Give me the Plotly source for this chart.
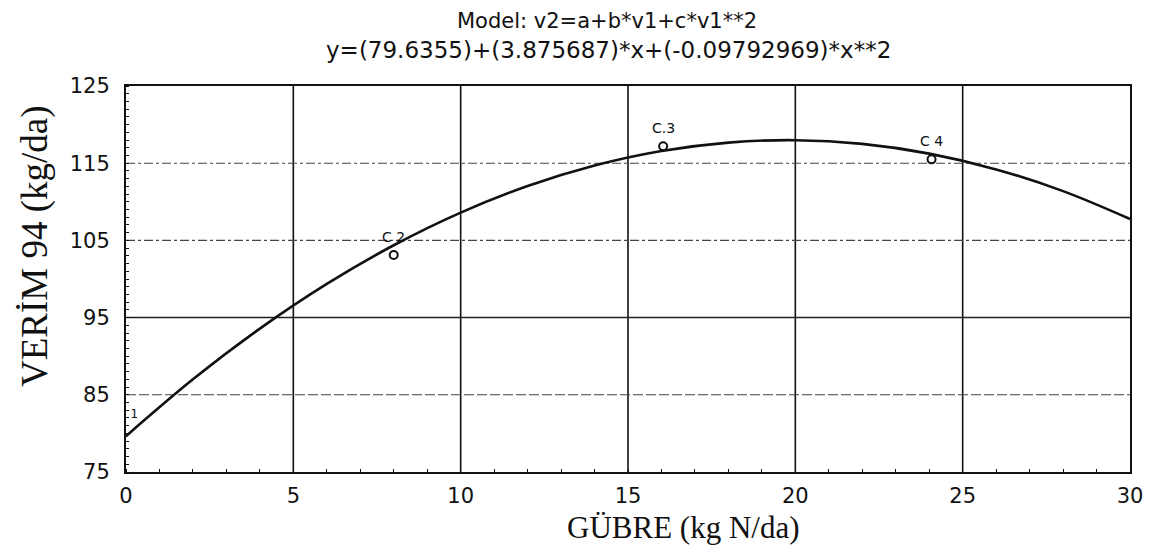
import plotly.graph_objects as go

# Fitted curve values (model curve)
curve_x = [0, 2, 4, 6, 8, 10, 12, 14, 16, 18, 20, 22, 24, 26, 28, 30]
curve_y = [79.64, 87.0, 93.57, 99.36, 104.37, 108.6, 112.04, 114.7, 116.58,
           117.67, 117.98, 117.5, 116.24, 114.2, 111.38, 107.77]

# Observed points
pt_x = [8.0, 16.05, 24.07]
pt_y = [103.1, 117.2, 115.5]
pt_labels = ["C 2", "C.3", "C 4"]

# First point label (at axis)
p1_x = [0.25]
p1_y = [82.4]
p1_label = ["1"]

x_ticks = [0, 5, 10, 15, 20, 25, 30]
y_ticks = [75, 85, 95, 105, 115, 125]

title1 = "Model: v2=a+b*v1+c*v1**2"
title2 = "y=(79.6355)+(3.875687)*x+(-0.09792969)*x**2"
x_title = "GÜBRE (kg N/da)"
y_title = "VERİM 94 (kg/da)"

# page body has an 8px margin; figure pixel geometry
W, H = 1148, 548
L, R, T, B = 118, 26, 78, 84
PW, PH = W - L - R, H - T - B

def px(x):
    return (x - L) / PW

def py(y):
    return 1 - (y - T) / PH

SANS = "DejaVu Sans, Liberation Sans, Arial"
SERIF = "Liberation Serif, Times New Roman, serif"

fig = go.Figure()

# grid lines
for xv in [5, 10, 15, 20, 25]:
    fig.add_shape(type="line", x0=xv, x1=xv, y0=75, y1=125, xref="x", yref="y",
                  line=dict(color="#111", width=1.6), layer="below")
grid_styles = {85: "10px,3px", 95: "solid", 105: "dashdot", 115: "dashdot"}
for yv, dsh in grid_styles.items():
    fig.add_shape(type="line", x0=0, x1=30, y0=yv, y1=yv, xref="x", yref="y",
                  line=dict(color="#222" if dsh == "solid" else "#444",
                            width=1.5 if dsh == "solid" else 1.1, dash=dsh),
                  layer="below")

fig.add_trace(go.Scatter(x=curve_x, y=curve_y, mode="lines",
                         line=dict(color="#111", width=2.6, shape="spline"),
                         hoverinfo="skip", showlegend=False))
fig.add_trace(go.Scatter(x=pt_x, y=pt_y, mode="markers",
                         marker=dict(symbol="circle-open", size=8,
                                     color="#111", line=dict(width=2)),
                         showlegend=False))
fig.add_trace(go.Scatter(x=p1_x, y=p1_y, mode="text", text=p1_label,
                         textfont=dict(family=SANS, size=12, color="#111"),
                         showlegend=False))

annotations = [
    dict(text=title1, x=px(599), y=py(13), xref="paper", yref="paper",
         xanchor="center", yanchor="middle", showarrow=False,
         font=dict(family=SANS, size=21, color="#111")),
    dict(text=title2, x=px(600), y=py(42), xref="paper", yref="paper",
         xanchor="center", yanchor="middle", showarrow=False,
         font=dict(family=SANS, size=23, color="#111")),
    dict(text=y_title, x=px(27), y=py(238), xref="paper", yref="paper",
         xanchor="center", yanchor="middle", textangle=-90, showarrow=False,
         font=dict(family=SERIF, size=37, color="#111")),
    dict(text=x_title, x=px(675), y=py(519), xref="paper", yref="paper",
         xanchor="center", yanchor="middle", showarrow=False,
         font=dict(family=SERIF, size=31, color="#111")),
]
for xv, yv, lab in zip(pt_x, pt_y, pt_labels):
    annotations.append(dict(text=lab, x=xv, y=yv, xref="x", yref="y",
                            xanchor="center", yanchor="middle", yshift=18,
                            showarrow=False,
                            font=dict(family=SANS, size=14, color="#111")))

fig.update_layout(
    width=W, height=H,
    margin=dict(l=L, r=R, t=T, b=B, autoexpand=False),
    paper_bgcolor="white", plot_bgcolor="white",
    annotations=annotations,
)

fig.update_xaxes(range=[0, 30], tickvals=x_ticks, ticktext=[str(v) for v in x_ticks],
                 showgrid=False, zeroline=False, showline=True, linecolor="#111",
                 linewidth=2, mirror=True, ticks="", ticklen=0, ticklabelstandoff=4,
                 tickfont=dict(family=SANS, size=21, color="#111"),
                 minor=dict(dtick=1, ticks="inside", ticklen=3, tickcolor="#111"))
fig.update_yaxes(range=[75, 125], tickvals=y_ticks, ticktext=[str(v) for v in y_ticks],
                 showgrid=False, zeroline=False, showline=True, linecolor="#111",
                 linewidth=2, mirror=True, ticks="", ticklen=0, ticklabelstandoff=10,
                 tickfont=dict(family=SANS, size=21, color="#111"),
                 minor=dict(dtick=1, ticks="inside", ticklen=3, tickcolor="#111"))

fig.write_html("out.html")
